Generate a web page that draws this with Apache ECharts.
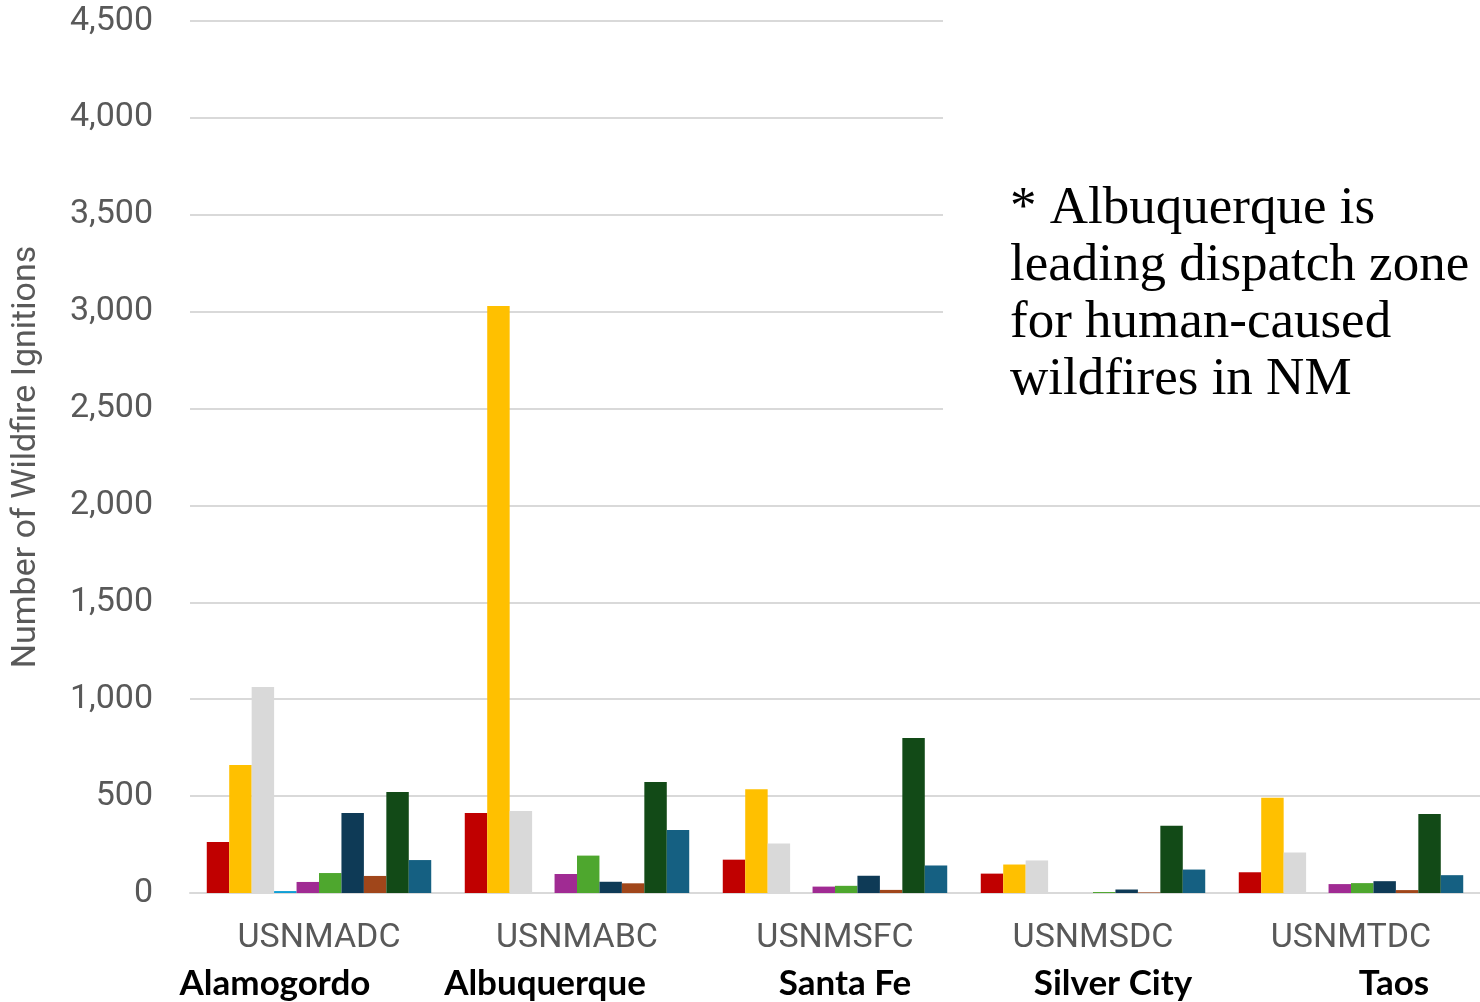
<!DOCTYPE html>
<html>
<head>
<meta charset="utf-8">
<script src="https://cdn.jsdelivr.net/npm/echarts@6/dist/echarts.min.js"></script>
<style>
html,body{margin:0;padding:0;background:#fff;}
#chart{width:1480px;height:1002px;}
</style>
</head>
<body>
<div id="chart"></div>
<script>
var zones = ['USNMADC', 'USNMABC', 'USNMSFC', 'USNMSDC', 'USNMTDC'];
var cities = ['Alamogordo', 'Albuquerque', 'Santa Fe', 'Silver City', 'Taos'];
var yTicks = [0, 500, 1000, 1500, 2000, 2500, 3000, 3500, 4000, 4500];

var s1 = [263, 413, 172, 100, 107];
var s2 = [660, 3029, 535, 147, 492];
var s3 = [1063, 423, 256, 168, 209];
var s4 = [10, 0, 0, 0, 0];
var s5 = [57, 98, 33, 0, 46];
var s6 = [103, 193, 37, 5, 51];
var s7 = [413, 58, 89, 18, 61];
var s8 = [88, 50, 16, 3, 15];
var s9 = [521, 573, 800, 347, 408];
var s10 = [170, 325, 142, 121, 92];

var seriesData = [s1, s2, s3, s4, s5, s6, s7, s8, s9, s10];
var colors = ['#C00000', '#FFC000', '#D9D9D9', '#0F9ED5', '#A02B93', '#4EA72E', '#0E3A56', '#A0461A', '#124A17', '#156082'];

var chart = echarts.init(document.getElementById('chart'));
var series = seriesData.map(function (d, i) {
  return {
    type: 'bar',
    name: 'Series ' + (i + 1),
    data: d,
    barGap: '0%',
    barCategoryGap: '13%',
    itemStyle: { color: colors[i] },
    silent: true
  };
});

var cityX = [275, 545, 845, 1113, 1394];
var graphics = [
  { type: 'rect', left: 943, top: 0, shape: { width: 537, height: 470 }, style: { fill: '#ffffff' }, z: 100 },
  {
    type: 'text', left: 1010, top: 181, z: 101,
    style: {
      text: '* Albuquerque is\nleading dispatch zone\nfor human-caused\nwildfires in NM',
      font: '53px "Liberation Serif"', fill: '#000000', lineHeight: 57
    }
  }
];
cities.forEach(function (c, i) {
  graphics.push({
    type: 'text', x: cityX[i], y: 984, z: 101,
    style: { text: c, font: 'bold 35px Lato', fill: '#000000', align: 'center', verticalAlign: 'middle' }
  });
});

chart.setOption({
  animation: false,
  backgroundColor: '#ffffff',
  grid: { left: 190, right: 0, top: 21, bottom: 109 },
  xAxis: {
    type: 'category',
    data: zones,
    axisLine: { show: true, lineStyle: { color: '#D9D9D9', width: 2 } },
    axisTick: { show: false },
    axisLabel: { color: '#595959', fontSize: 34, fontFamily: 'Roboto', margin: 28 }
  },
  yAxis: {
    type: 'value',
    min: yTicks[0],
    max: yTicks[yTicks.length - 1],
    interval: 500,
    name: 'Number of Wildfire Ignitions',
    nameLocation: 'middle',
    nameGap: 147,
    nameTextStyle: { color: '#595959', fontSize: 34, fontFamily: 'Roboto' },
    axisLine: { show: false },
    axisTick: { show: false },
    splitLine: { lineStyle: { color: '#D9D9D9', width: 2 } },
    axisLabel: {
      color: '#595959', fontSize: 34, fontFamily: 'Roboto', margin: 37,
      formatter: function (v) { return v.toLocaleString('en-US'); }
    }
  },
  series: series,
  graphic: graphics
});
</script>
</body>
</html>
